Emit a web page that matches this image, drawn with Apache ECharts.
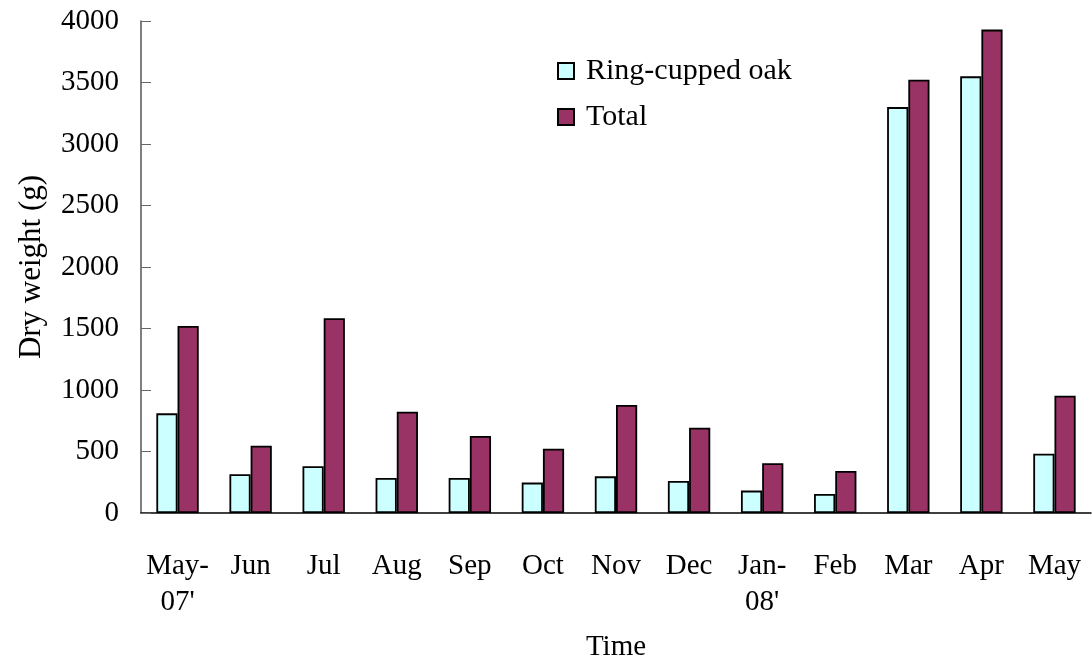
<!DOCTYPE html>
<html>
<head>
<meta charset="utf-8">
<script src="https://cdn.jsdelivr.net/npm/echarts@6/dist/echarts.min.js"></script>
<style>
  html, body { margin: 0; padding: 0; background: #fff; }
  #chart { width: 1092px; height: 662px; }
</style>
</head>
<body>
<div id="chart"></div>
<script>
// months of sampling
var months = ["May-\n07'", "Jun", "Jul", "Aug", "Sep", "Oct", "Nov", "Dec", "Jan-\n08'", "Feb", "Mar", "Apr", "May"];
// dry weight (g)
var ringCuppedOak = [810, 315, 380, 285, 285, 247, 298, 260, 182, 155, 3300, 3550, 482];
var total = [1520, 547, 1583, 824, 626, 523, 878, 694, 404, 341, 3523, 3930, 954];
var yTicks = { min: 0, max: 4000, interval: 500 };

var font = "'Liberation Serif', 'Times New Roman', serif";
var chart = echarts.init(document.getElementById("chart"));

var option = {
  animation: false,
  textStyle: { fontFamily: font },
  grid: { left: 141, right: 1, top: 21, bottom: 149, outerBoundsMode: "none" },
  legend: {
    orient: "vertical",
    left: 557,
    top: 56,
    padding: 0,
    itemWidth: 16,
    itemHeight: 16,
    itemGap: 16,
    icon: "rect",
    textStyle: { fontFamily: font, fontSize: 30, color: "#000", padding: [0, 0, 0, 7] },
    data: ["Ring-cupped oak", "Total"]
  },
  xAxis: {
    type: "category",
    data: months,
    name: "Time",
    nameLocation: "middle",
    nameGap: 120,
    nameTextStyle: { fontFamily: font, fontSize: 29, color: "#000" },
    axisLine: { lineStyle: { color: "#000", width: 1.5 } },
    axisTick: { inside: true, length: 9, lineStyle: { color: "#666" } },
    axisLabel: {
      margin: 35,
      fontFamily: font,
      fontSize: 29,
      lineHeight: 36,
      color: "#000",
      interval: 0
    }
  },
  yAxis: {
    type: "value",
    min: yTicks.min,
    max: yTicks.max,
    interval: yTicks.interval,
    name: "Dry weight (g)",
    nameLocation: "middle",
    nameGap: 94,
    nameTextStyle: { fontFamily: font, fontSize: 31, color: "#000" },
    splitLine: { show: false },
    axisLine: { show: true, lineStyle: { color: "#555", width: 1.5 } },
    axisTick: { show: true, inside: true, length: 10, lineStyle: { color: "#666" } },
    axisLabel: {
      margin: 22,
      fontFamily: font,
      fontSize: 29,
      color: "#000",
      formatter: function (v) { return String(v); }
    }
  },
  series: [
    {
      name: "Ring-cupped oak",
      type: "bar",
      data: ringCuppedOak,
      barGap: "0%",
      barCategoryGap: "42%",
      itemStyle: { color: "#CCFFFF", borderColor: "#000", borderWidth: 1.8 }
    },
    {
      name: "Total",
      type: "bar",
      data: total,
      itemStyle: { color: "#993366", borderColor: "#000", borderWidth: 1.8 }
    }
  ]
};

chart.setOption(option);
</script>
</body>
</html>
